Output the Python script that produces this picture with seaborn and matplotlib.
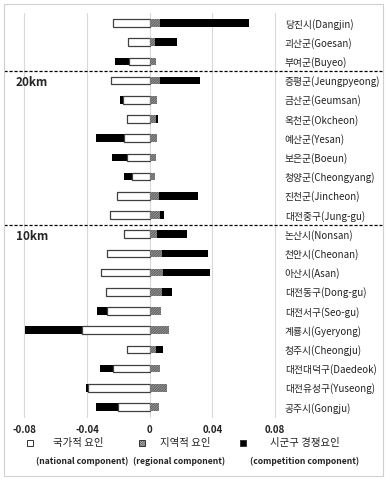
import numpy as np
import pandas as pd
import matplotlib
matplotlib.use("Agg")
import matplotlib.pyplot as plt
import matplotlib.transforms as mtransforms
from matplotlib.patches import Rectangle
import seaborn as sns

# regions, top to bottom
regions = ['당진시(Dangjin)', '괴산군(Goesan)', '부여군(Buyeo)', '증평군(Jeungpyeong)',
           '금산군(Geumsan)', '옥천군(Okcheon)', '예산군(Yesan)', '보은군(Boeun)',
           '청양군(Cheongyang)', '진천군(Jincheon)', '대전중구(Jung-gu)', '논산시(Nonsan)',
           '천안시(Cheonan)', '아산시(Asan)', '대전동구(Dong-gu)', '대전서구(Seo-gu)',
           '계룡시(Gyeryong)', '청주시(Cheongju)', '대전대덕구(Daedeok)', '대전유성구(Yuseong)',
           '공주시(Gongju)']
national = [-0.0237, -0.0142, -0.0131, -0.0250, -0.0171, -0.0148, -0.0163, -0.0144,
            -0.0112, -0.0212, -0.0257, -0.0167, -0.0276, -0.0314, -0.0282, -0.0273,
            -0.0433, -0.0146, -0.0235, -0.0397, -0.0205]
regional = [0.0067, 0.0033, 0.0040, 0.0067, 0.0046, 0.0037, 0.0046, 0.0043,
            0.0033, 0.0061, 0.0067, 0.0046, 0.0080, 0.0086, 0.0078, 0.0075,
            0.0122, 0.0040, 0.0067, 0.0110, 0.0061]
competition = [0.0570, 0.0138, -0.0089, 0.0251, -0.0021, 0.0015, -0.0179, -0.0098,
               -0.0051, 0.0247, 0.0021, 0.0191, 0.0289, 0.0300, 0.0061, -0.0066,
               -0.0366, 0.0045, -0.0083, -0.0008, -0.0140]
xticks = [-0.08, -0.04, 0, 0.04, 0.08]
xtick_labels = ['-0.08', '-0.04', '0', '0.04', '0.08']

df = pd.DataFrame({'region': regions, 'national': national,
                   'regional': regional, 'competition': competition})
# stacked like excel: negatives pile left, positives pile right
df['neg_total'] = df['national'] + df['competition'].clip(upper=0)
df['pos_total'] = df['regional'] + df['competition'].clip(lower=0)

sns.set_style("white")
plt.rcParams['font.family'] = ['Noto Sans CJK KR', 'DejaVu Sans']
plt.rcParams['hatch.linewidth'] = 0.6
HATCH = '/' * 20

fig = plt.figure(figsize=(3.87, 4.8), dpi=100)
ax = fig.add_axes([0.0633, 0.1321, 0.6473, 0.8400])

h = 0.4
sns.barplot(data=df, y='region', x='neg_total', color='black', orient='h',
            errorbar=None, width=h, linewidth=0, ax=ax)
sns.barplot(data=df, y='region', x='national', color='white', orient='h',
            errorbar=None, width=h, edgecolor='#404040', linewidth=0.9, ax=ax)
sns.barplot(data=df, y='region', x='pos_total', color='black', orient='h',
            errorbar=None, width=h, linewidth=0, ax=ax)
sns.barplot(data=df, y='region', x='regional', color='white', orient='h',
            errorbar=None, width=h, edgecolor='#444444', linewidth=0,
            hatch=HATCH, ax=ax)

ax.set_xlim(-0.08, 0.08)
ax.set_ylim(len(regions) - 0.5, -0.5)
ax.set_xticks(xticks)
ax.set_xticklabels(xtick_labels, fontsize=7, fontweight='bold', color='#222222')
ax.tick_params(axis='x', length=0, pad=6)
ax.yaxis.tick_right()
ax.tick_params(axis='y', length=0, pad=7, labelsize=7, labelcolor='#222222')
for lab in ax.get_yticklabels():
    lab.set_horizontalalignment('left')
ax.set_xlabel('')
ax.set_ylabel('')
for s in ax.spines.values():
    s.set_visible(False)
for x in xticks:
    ax.axvline(x, color='#d9d9d9', linewidth=0.8, zorder=0, clip_on=False)

# distance band separators, spanning the whole figure
trans = mtransforms.blended_transform_factory(fig.transFigure, ax.transData)
for yb in [2.5, 10.5]:
    ax.plot([4 / 387, 382 / 387], [yb, yb], transform=trans, color='black',
            linestyle=(0, (2.5, 1.5)), linewidth=0.9, clip_on=False)
ax.text(16 / 387, 3.1, '20km', transform=trans, fontsize=8.5, fontweight='bold',
        va='center', ha='left')
ax.text(16 / 387, 11.1, '10km', transform=trans, fontsize=8.5, fontweight='bold',
        va='center', ha='left')

# legend
def fx(px):
    return px / 387

def fy(py):
    return 1 - py / 480

sq = 6
marks = [(27, 'white', None), (139, 'white', '/' * 16), (240, 'black', None)]
for xm, fc, hat in marks:
    fig.add_artist(Rectangle((fx(xm), fy(446)), sq / 387, sq / 480, facecolor=fc,
                             edgecolor='#333333', linewidth=0.7, hatch=hat,
                             transform=fig.transFigure))
kor = [('국가적 요인', 78), ('지역적 요인', 185), ('시군구 경쟁요인', 305)]
eng = [('(national component)', 82), ('(regional component)', 179),
       ('(competition component)', 305)]
for t, xc in kor:
    fig.text(fx(xc), fy(443), t, fontsize=7.5, ha='center', va='center', color='#222222')
for t, xc in eng:
    fig.text(fx(xc), fy(461), t, fontsize=6.2, ha='center', va='center',
             fontweight='bold', color='#222222')

# outer frame
fig.add_artist(Rectangle((fx(4), fy(476)), 379 / 387, 472 / 480, facecolor='none',
                         edgecolor='#d0d0d0', linewidth=0.8, transform=fig.transFigure))

fig.savefig('out.png', dpi=100)
